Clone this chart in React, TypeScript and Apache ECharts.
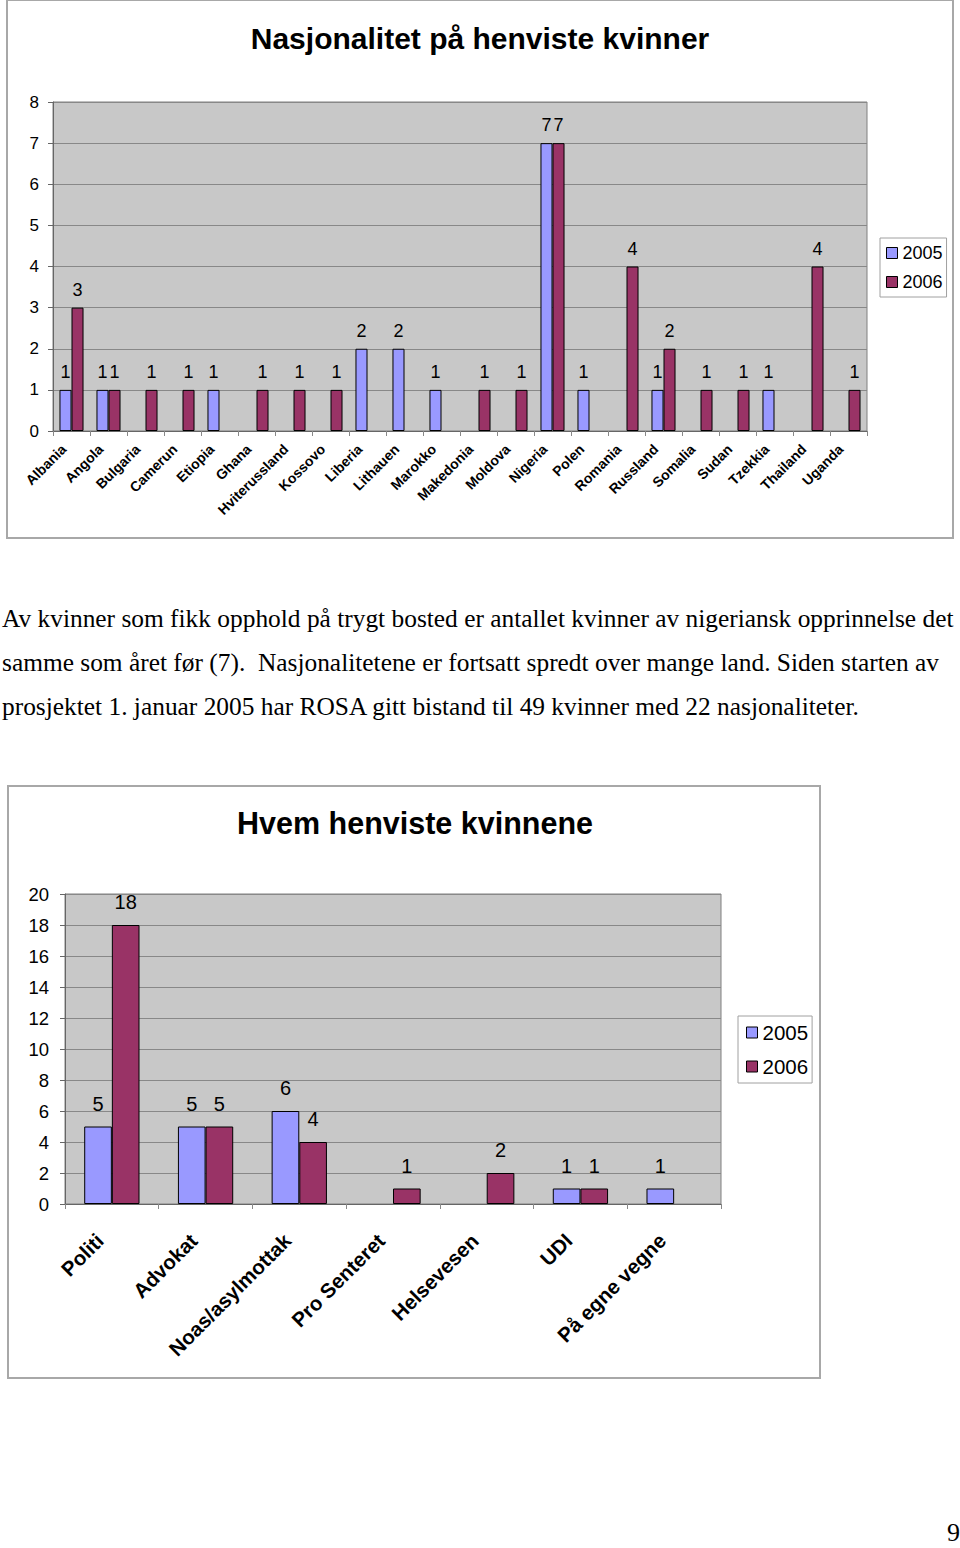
import React, { useEffect, useRef } from "react";
import * as echarts from "echarts";

// ---- Chart 1 data ----
const countries = [
  "Albania", "Angola", "Bulgaria", "Camerun", "Etiopia", "Ghana", "Hviterussland",
  "Kossovo", "Liberia", "Lithauen", "Marokko", "Makedonia", "Moldova", "Nigeria",
  "Polen", "Romania", "Russland", "Somalia", "Sudan", "Tzekkia", "Thailand", "Uganda",
];
const nat2005 = [1, 1, null, null, 1, null, null, null, 2, 2, 1, null, null, 7, 1, null, 1, null, null, 1, null, null];
const nat2006 = [3, 1, 1, 1, null, 1, 1, 1, null, null, null, 1, 1, 7, null, 4, 2, 1, 1, null, 4, 1];

// ---- Chart 2 data ----
const referrers = ["Politi", "Advokat", "Noas/asylmottak", "Pro Senteret", "Helsevesen", "UDI", "På egne vegne"];
const ref2005 = [5, 5, 6, null, null, 1, 1];
const ref2006 = [18, 5, 4, 1, 2, 1, null];

const seriesNames = ["2005", "2006"];
const seriesColors = ["#9999ff", "#993366"];

const title1 = "Nasjonalitet på henviste kvinner";
const title2 = "Hvem henviste kvinnene";

const paragraphLines = [
  "Av kvinner som fikk opphold på trygt bosted er antallet kvinner av nigeriansk opprinnelse det",
  "samme som året før (7).  Nasjonalitetene er fortsatt spredt over mange land. Siden starten av",
  "prosjektet 1. januar 2005 har ROSA gitt bistand til 49 kvinner med 22 nasjonaliteter.",
];

const FONT = "Liberation Sans, Arial, sans-serif";

function Chart({ option, style }: { option: any; style: React.CSSProperties }) {
  const ref = useRef<HTMLDivElement>(null);
  useEffect(() => {
    const chart = echarts.init(ref.current!, undefined, { renderer: "svg" });
    chart.setOption(option);
    return () => chart.dispose();
  }, []);
  return <div ref={ref} style={style} />;
}

function makeOption(cfg: {
  cats: string[];
  d05: (number | null)[];
  d06: (number | null)[];
  title: string;
  titleX: number;
  titleY: number;
  titleSize: number;
  grid: any;
  yMax: number;
  yInterval: number;
  yFont: number;
  yMargin: number;
  xFont: number;
  xMargin: number;
  xPadRight: number;
  labelFont: number;
  labelDist: number;
  catGap: string;
  legend: any;
}) {
  const mkSeries = (i: number, data: (number | null)[]) => ({
    type: "bar",
    name: seriesNames[i],
    data,
    barGap: "0%",
    barCategoryGap: cfg.catGap,
    itemStyle: { color: seriesColors[i], borderColor: "#000", borderWidth: 1 },
    label: {
      show: true,
      position: "top",
      distance: cfg.labelDist,
      color: "#000",
      fontSize: cfg.labelFont,
      fontFamily: FONT,
    },
  });
  return {
    animation: false,
    textStyle: { fontFamily: FONT },
    graphic: [
      {
        type: "text",
        x: cfg.titleX,
        y: cfg.titleY,
        style: {
          text: cfg.title,
          fontSize: cfg.titleSize,
          fontWeight: "bold",
          fontFamily: FONT,
          fill: "#000",
          textAlign: "center",
          textVerticalAlign: "middle",
        },
      },
    ],
    legend: {
      ...cfg.legend,
      orient: "vertical",
      icon: "rect",
      backgroundColor: "#fff",
      borderColor: "#a0a0a0",
      borderWidth: 1,
      borderRadius: 0,
      itemStyle: { borderColor: "#000", borderWidth: 1 },
      textStyle: { ...cfg.legend.textStyle, color: "#000", fontFamily: FONT },
      data: seriesNames,
    },
    grid: {
      ...cfg.grid,
      show: true,
      backgroundColor: "#c8c8c8",
      borderColor: "#808080",
      borderWidth: 1,
      containLabel: false,
    },
    xAxis: {
      type: "category",
      data: cfg.cats,
      axisLine: { lineStyle: { color: "#666", width: 1 } },
      axisTick: { show: true, length: 5, lineStyle: { color: "#888" } },
      axisLabel: {
        interval: 0,
        rotate: 45,
        fontWeight: "bold",
        fontSize: cfg.xFont,
        color: "#000",
        fontFamily: FONT,
        margin: cfg.xMargin,
        padding: [0, cfg.xPadRight, 0, 0],
      },
    },
    yAxis: {
      type: "value",
      min: 0,
      max: cfg.yMax,
      interval: cfg.yInterval,
      axisLine: { show: true, lineStyle: { color: "#666" } },
      axisTick: { show: true, length: 5, lineStyle: { color: "#666" } },
      axisLabel: { fontSize: cfg.yFont, color: "#000", fontFamily: FONT, margin: cfg.yMargin },
      splitLine: { show: true, lineStyle: { color: "#888", width: 1 } },
    },
    series: [mkSeries(0, cfg.d05), mkSeries(1, cfg.d06)],
  };
}

const option1 = makeOption({
  cats: countries,
  d05: nat2005,
  d06: nat2006,
  title: title1,
  titleX: 480,
  titleY: 38,
  titleSize: 30,
  grid: { left: 53, top: 102, width: 814, height: 329 },
  yMax: 8,
  yInterval: 1,
  yFont: 17,
  yMargin: 14,
  xFont: 14,
  xMargin: 8,
  xPadRight: 11,
  labelFont: 18,
  labelDist: 9,
  catGap: "35%",
  legend: {
    left: 880,
    top: 238,
    padding: [6, 4, 6, 6],
    itemWidth: 11,
    itemHeight: 11,
    itemGap: 11,
    textStyle: { fontSize: 18 },
  },
});

const option2 = makeOption({
  cats: referrers,
  d05: ref2005,
  d06: ref2006,
  title: title2,
  titleX: 415,
  titleY: 43,
  titleSize: 30.5,
  grid: { left: 65, top: 114, width: 656, height: 310 },
  yMax: 20,
  yInterval: 2,
  yFont: 18.5,
  yMargin: 16,
  xFont: 20.5,
  xMargin: 21,
  xPadRight: 17,
  labelFont: 20,
  labelDist: 13,
  catGap: "41%",
  legend: {
    left: 738,
    top: 236,
    padding: [6, 4, 6, 8],
    itemWidth: 11,
    itemHeight: 11,
    itemGap: 13,
    textStyle: { fontSize: 20.5 },
  },
});

export default function App() {
  return (
    <div style={{ position: "absolute", left: 0, top: 0, width: 960, height: 1548, background: "#fff", overflow: "hidden" }}>
      <div style={{ position: "absolute", left: 6, top: -1, width: 944, height: 536, border: "2px solid #a8a8a8" }} />
      <Chart option={option1} style={{ position: "absolute", left: 0, top: 0, width: 960, height: 540 }} />
      <div
        style={{
          position: "absolute",
          left: 2,
          top: 596,
          fontFamily: "Liberation Serif, 'Times New Roman', serif",
          fontSize: 25.4,
          lineHeight: "44px",
          color: "#000",
          whiteSpace: "pre",
        }}
      >
        {paragraphLines.map((l, i) => (
          <div key={i}>{l}</div>
        ))}
      </div>
      <div style={{ position: "absolute", left: 7, top: 785, width: 810, height: 590, border: "2px solid #a8a8a8" }} />
      <Chart option={option2} style={{ position: "absolute", left: 0, top: 780, width: 960, height: 600 }} />
      <div
        style={{
          position: "absolute",
          left: 947,
          top: 1518,
          fontFamily: "Liberation Serif, 'Times New Roman', serif",
          fontSize: 26,
          color: "#000",
        }}
      >
        9
      </div>
    </div>
  );
}
